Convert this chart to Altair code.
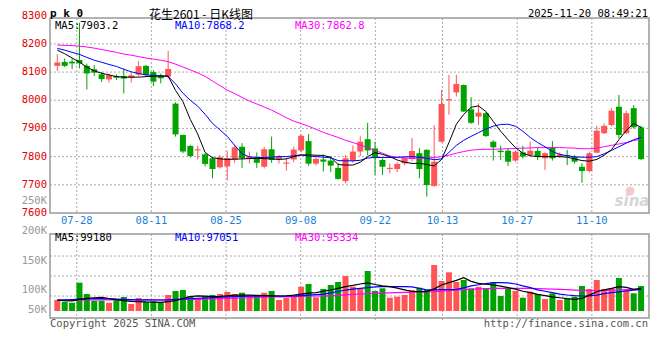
import altair as alt
import pandas as pd

# ---------------- data ----------------
TICK_LABELS = ["07-28", "08-11", "08-25", "09-08", "09-22", "10-13", "10-27", "11-10"]
TICK_INDEX = [3, 13, 23, 33, 43, 52, 62, 72]

OPEN = [8122, 8136, 8137, 8143, 8122, 8110, 8092, 8074, 8086, 8086,
        8080, 8091, 8122, 8100, 8088, 8084, 7988, 7877, 7838, 7822,
        7808, 7794, 7762, 7765, 7790, 7835, 7794, 7794, 7764, 7826,
        7792, 7775, 7790, 7822, 7855, 7775, 7790, 7786, 7760, 7713,
        7785, 7818, 7862, 7829, 7788, 7756, 7756, 7776, 7792, 7812,
        7824, 7696, 7853, 8000, 8028, 8054, 7968, 7942, 7954, 7853,
        7821, 7821, 7786, 7815, 7806, 7820, 7794, 7833, 7800, 7806,
        7800, 7764, 7749, 7814, 7883, 7912, 7977, 7883, 7972, 7904]
CLOSE = [8134, 8122, 8131, 8131, 8095, 8098, 8075, 8089, 8080, 8077,
         8088, 8121, 8090, 8066, 8078, 8111, 7879, 7818, 7802, 7826,
         7774, 7756, 7798, 7795, 7833, 7795, 7800, 7778, 7826, 7788,
         7800, 7779, 7825, 7874, 7775, 7792, 7782, 7768, 7721, 7794,
         7818, 7853, 7822, 7798, 7764, 7760, 7774, 7794, 7820, 7756,
         7699, 7782, 7987, 8004, 8058, 7960, 7920, 7956, 7873, 7833,
         7816, 7782, 7817, 7800, 7821, 7800, 7812, 7794, 7808, 7801,
         7782, 7749, 7812, 7892, 7909, 7963, 7877, 7954, 7904, 7791]
HIGH = [8163, 8148, 8148, 8275, 8130, 8125, 8100, 8095, 8092, 8113,
        8098, 8139, 8125, 8107, 8095, 8175, 7993, 7878, 7842, 7838,
        7812, 7800, 7806, 7820, 7842, 7848, 7818, 7815, 7835, 7871,
        7805, 7795, 7835, 7880, 7880, 7797, 7808, 7800, 7776, 7805,
        7840, 7872, 7920, 7853, 7794, 7776, 7780, 7800, 7866, 7830,
        7826, 7912, 8037, 8090, 8090, 8056, 8011, 7989, 7958, 7858,
        7838, 7830, 7822, 7838, 7853, 7832, 7815, 7855, 7815, 7824,
        7806, 7776, 7818, 7909, 7918, 7972, 8019, 7963, 7983, 7910]
LOW = [8104, 8118, 8110, 8113, 8038, 8086, 8065, 8063, 8072, 8024,
       8063, 8085, 8083, 8050, 8060, 8077, 7871, 7812, 7797, 7790,
       7765, 7723, 7758, 7715, 7778, 7760, 7776, 7760, 7758, 7778,
       7775, 7750, 7780, 7815, 7768, 7768, 7747, 7746, 7718, 7706,
       7778, 7802, 7805, 7735, 7735, 7741, 7745, 7770, 7784, 7723,
       7658, 7693, 7850, 7948, 8013, 7958, 7916, 7912, 7870, 7786,
       7788, 7767, 7782, 7794, 7800, 7788, 7753, 7786, 7795, 7770,
       7775, 7707, 7745, 7812, 7880, 7908, 7865, 7880, 7900, 7788]

MA5 = [8178, 8165, 8150, 8135, 8118, 8104, 8096, 8090, 8084, 8082,
       8082, 8082, 8084, 8085, 8086, 8086, 8035, 7995, 7932, 7880,
       7815, 7796, 7792, 7790, 7791, 7792, 7793, 7794, 7793, 7792,
       7790, 7792, 7800, 7806, 7806, 7805, 7804, 7798, 7772, 7770,
       7770, 7780, 7800, 7814, 7808, 7800, 7788, 7780, 7776, 7776,
       7772, 7767, 7790, 7850, 7915, 7950, 7975, 7980, 7960, 7925,
       7890, 7860, 7832, 7812, 7803, 7800, 7800, 7800, 7800, 7798,
       7792, 7786, 7784, 7790, 7805, 7825, 7860, 7893, 7918, 7903]
MA10 = [8184, 8178, 8170, 8163, 8152, 8142, 8135, 8127, 8120, 8110,
        8101, 8095, 8090, 8088, 8086, 8085, 8058, 8025, 8000, 7979,
        7950, 7918, 7895, 7872, 7840, 7810, 7799, 7797, 7797, 7798,
        7800, 7800, 7803, 7806, 7802, 7800, 7798, 7796, 7786, 7785,
        7785, 7787, 7795, 7797, 7797, 7797, 7798, 7799, 7800, 7798,
        7794, 7789, 7792, 7815, 7840, 7858, 7872, 7885, 7898, 7908,
        7914, 7915, 7908, 7890, 7868, 7850, 7835, 7818, 7808, 7803,
        7799, 7798, 7798, 7800, 7810, 7822, 7835, 7848, 7860, 7868]
MA30 = [8196, 8195, 8194, 8192, 8189, 8185, 8180, 8175, 8170, 8164,
        8160, 8155, 8150, 8146, 8142, 8137, 8128, 8118, 8108, 8097,
        8085, 8068, 8052, 8036, 8024, 8010, 7997, 7987, 7976, 7965,
        7952, 7938, 7926, 7917, 7908, 7897, 7886, 7877, 7868, 7858,
        7850, 7841, 7832, 7822, 7812, 7802, 7797, 7795, 7794, 7794,
        7795, 7797, 7800, 7805, 7812, 7818, 7823, 7825, 7826, 7826,
        7827, 7828, 7829, 7830, 7831, 7832, 7832, 7832, 7832, 7831,
        7830, 7828, 7828, 7830, 7835, 7840, 7845, 7850, 7857, 7862]

VOLUME = [45700, 38600, 34400, 117400, 70600, 42700, 42700, 34400, 45700, 58100,
          29100, 54000, 37400, 40300, 34400, 66400, 83000, 87200, 62300, 54000,
          62300, 66400, 70600, 78900, 70600, 75900, 62300, 62300, 75900, 83000,
          45700, 54000, 59300, 100800, 112100, 56900, 91300, 107900, 120400, 145300,
          100800, 94200, 166000, 83000, 94200, 55200, 59300, 66400, 87200, 96700,
          87200, 190900, 124500, 160600, 120400, 128700, 94200, 100800, 94200, 119100,
          62300, 94200, 83000, 55200, 80100, 70600, 49800, 73500, 45700, 51000,
          59300, 103800, 91300, 128700, 91300, 94200, 137000, 87200, 73500, 103800]
VMA5 = [45700, 42500, 42000, 48000, 52600, 55000, 56700, 52000, 47000, 43000,
        40000, 38700, 37500, 37000, 36200, 38500, 43000, 52000, 60000, 62500,
        62000, 60000, 60500, 63000, 65500, 66400, 65500, 64500, 63500, 62800,
        62300, 63000, 66000, 70000, 74000, 76500, 82000, 87200, 94000, 101000,
        106000, 112000, 117000, 110000, 104000, 101000, 95000, 88000, 81000, 80200,
        80200, 92000, 107900, 118000, 127000, 138000, 123000, 115000, 111000, 108000,
        103000, 97000, 91000, 82000, 76000, 69000, 64000, 59000, 55000, 51000,
        48400, 52000, 66000, 80000, 88000, 94000, 101000, 98000, 90000, 94000]
VMA10 = [45700, 46500, 47500, 49000, 50000, 51000, 51200, 50000, 49000, 48000,
         47000, 46500, 46000, 45700, 45700, 46500, 48000, 49500, 51000, 52500,
         54000, 55500, 57000, 58500, 59500, 60500, 61500, 62000, 62300, 62300,
         62300, 62300, 62300, 64000, 66000, 68000, 70000, 75000, 81000, 87000,
         91000, 94100, 97000, 100000, 101000, 101000, 101000, 101000, 100000, 94000,
         88000, 87500, 88500, 89000, 90000, 96000, 104000, 109000, 114000, 117600,
         117600, 117000, 112000, 104000, 97000, 88000, 82000, 76000, 70000, 66400,
         64000, 62300, 63000, 66000, 72000, 76000, 79000, 83000, 86500, 89900]
VMA30 = [45700, 45700, 45500, 45500, 45600, 45800, 45900, 46000, 46000, 46100,
         46000, 46000, 46100, 46200, 46300, 46500, 47000, 47500, 48000, 48500,
         49000, 50000, 51000, 52000, 53000, 54000, 55000, 56000, 57000, 58000,
         58500, 59000, 60000, 61000, 62000, 62200, 62500, 63000, 65000, 67000,
         69000, 70500, 72000, 73000, 74000, 75000, 76000, 77000, 78000, 78800,
         79500, 80200, 82000, 84000, 86500, 88500, 90000, 91500, 93000, 94100,
         94100, 94100, 94100, 94100, 94000, 93000, 92000, 91000, 90000, 88500,
         87000, 85500, 84500, 85000, 86000, 87000, 88000, 88800, 89500, 90000]

PRICE_TICKS = [8300, 8200, 8100, 8000, 7900, 7800, 7700, 7600]
PRICE_GRID = [8200, 8100, 8000, 7900, 7800, 7700]
VOL_LABELS = ["250K", "200K", "150K", "100K", "50K"]
VOL_GRID = [228250, 145250, 62250]

TITLE = "花生2601 - 日K线图"
STAMP = "2025-11-20 08:49:21"
MA_TEXT = ["MA5:7903.2", "MA10:7868.2", "MA30:7862.8"]
VMA_TEXT = ["MA5:99180", "MA10:97051", "MA30:95334"]

# ---------------- layout / style ----------------
W, H = 644, 344
PL, PR, PT, PB = 42, 641, 10, 205      # price panel frame (plot coords)
VT, VB = 226, 310                      # volume panel frame
VOL_LABEL_Y = [193, 223, 253, 282, 302]
RED, GREEN = "#FF5555", "#00A300"
BLUE_TXT = "#1C7FD6"
GRID = "#AAAAAA"
FRAME = "#999999"
MONO = "DejaVu Sans Mono"

N = len(CLOSE)
df = pd.DataFrame({"i": list(range(N)), "open": OPEN, "close": CLOSE, "high": HIGH,
                   "low": LOW, "vol": VOLUME, "ma5": MA5, "ma10": MA10, "ma30": MA30,
                   "vma5": VMA5, "vma10": VMA10, "vma30": VMA30})
df["dir"] = ["up" if c >= o else "down" for o, c in zip(OPEN, CLOSE)]

XS = alt.Scale(domain=[-5.995, 79.80], nice=False, zero=False)
PS = alt.Scale(domain=[7106.7, 8327.4], nice=False, zero=False)
VS = alt.Scale(domain=[-170150, 1257450], nice=False, zero=False)
X = alt.X("i:Q", scale=XS, axis=None)
COL = alt.Color("dir:N", scale=alt.Scale(domain=["up", "down"], range=[RED, GREEN]), legend=None)

base = alt.Chart(df)
one = alt.Chart(pd.DataFrame({"a": [0]}))

# date gridline positions (Sina places them on a slightly different pitch than the candles)
tick_pos = [(50 + d * 599 / 79 - 53) / 7.506 for d in TICK_INDEX]
ticks_df = pd.DataFrame({"pos": tick_pos, "t": TICK_LABELS})
TX = alt.X("pos:Q", scale=XS, axis=None)

layers = []
# grids
layers.append(alt.Chart(pd.DataFrame({"p": PRICE_GRID})).mark_rule(color=GRID, strokeDash=[2, 2], strokeWidth=1)
              .encode(y=alt.Y("p:Q", scale=PS, axis=None), x=alt.value(PL), x2=alt.value(PR)))
layers.append(alt.Chart(pd.DataFrame({"v": VOL_GRID})).mark_rule(color=GRID, strokeDash=[2, 2], strokeWidth=1)
              .encode(y=alt.Y("v:Q", scale=VS, axis=None), x=alt.value(PL), x2=alt.value(PR)))
layers.append(alt.Chart(ticks_df).mark_rule(color=GRID, strokeDash=[2, 2], strokeWidth=1)
              .encode(x=TX, y=alt.value(PT), y2=alt.value(PB)))
layers.append(alt.Chart(ticks_df).mark_rule(color=GRID, strokeDash=[2, 2], strokeWidth=1)
              .encode(x=TX, y=alt.value(VT), y2=alt.value(VB + 2)))

# watermark
layers.append(one.mark_point(shape="circle", size=80, filled=True, color="#F6CACA", opacity=1)
              .encode(x=alt.value(622), y=alt.value(183)))
layers.append(one.mark_text(text="sina", font="DejaVu Sans", fontSize=15, fontWeight="bold",
                            fontStyle="italic", color="#D6D6D6", align="center", baseline="middle")
              .encode(x=alt.value(624), y=alt.value(193)))

# candles
layers.append(base.mark_rule(strokeWidth=1)
              .encode(x=X, y=alt.Y("low:Q", scale=PS, axis=None), y2="high:Q", color=COL))
layers.append(base.mark_bar(size=6)
              .encode(x=X, y=alt.Y("open:Q", scale=PS, axis=None), y2="close:Q", color=COL))
# price MAs
for field, c in [("ma30", "#FF00FF"), ("ma10", "#0000FF"), ("ma5", "#000000")]:
    layers.append(base.mark_line(color=c, strokeWidth=1)
                  .encode(x=X, y=alt.Y(f"{field}:Q", scale=PS, axis=None)))

# volume bars
layers.append(base.mark_bar(size=6)
              .encode(x=X, y=alt.Y("vol:Q", scale=VS, axis=None), y2=alt.Y2Datum(0), color=COL))
for field, c in [("vma30", "#FF00FF"), ("vma10", "#0000FF"), ("vma5", "#000000")]:
    layers.append(base.mark_line(color=c, strokeWidth=1.2)
                  .encode(x=X, y=alt.Y(f"{field}:Q", scale=VS, axis=None)))

# frames
for top, bot in [(PT, PB), (VT, VB)]:
    layers.append(one.mark_rect(fillOpacity=0, stroke=FRAME, strokeWidth=1.5)
                  .encode(x=alt.value(PL), x2=alt.value(PR), y=alt.value(top), y2=alt.value(bot)))

# axis labels
layers.append(alt.Chart(pd.DataFrame({"p": PRICE_TICKS, "t": [str(v) for v in PRICE_TICKS]}))
              .mark_text(font=MONO, fontSize=10.5, color="#E00000", align="right", baseline="middle")
              .encode(y=alt.Y("p:Q", scale=PS, axis=None), x=alt.value(39), text="t:N"))
layers.append(alt.Chart(pd.DataFrame({"py": VOL_LABEL_Y, "t": VOL_LABELS}))
              .mark_text(font=MONO, fontSize=10.5, color="#999999", align="right", baseline="middle")
              .encode(y=alt.Y("py:Q", scale=None), x=alt.value(39), text="t:N"))
layers.append(alt.Chart(ticks_df)
              .mark_text(font=MONO, fontSize=10.5, color=BLUE_TXT, align="center", baseline="middle")
              .encode(x=TX, y=alt.value(213), text="t:N"))

# header / legends / footer
def label(txt, x, y, color="#000000", align="left", font=MONO, size=10.5, weight="normal"):
    return one.mark_text(text=txt, font=font, fontSize=size, fontWeight=weight, color=color,
                         align=align, baseline="middle").encode(x=alt.value(x), y=alt.value(y))

layers.append(label("p k 0", 42, 6, size=11, weight="bold", font="DejaVu Sans Mono"))
layers.append(label(TITLE, 193, 7, align="center", font="Noto Sans CJK SC", size=12))
layers.append(label(STAMP, 640, 6, align="right"))
for txt, x, c in zip(MA_TEXT, [47, 167, 287], ["#000000", "#0000FF", "#FF00FF"]):
    layers.append(label(txt, x, 17.5, color=c))
for txt, x, c in zip(VMA_TEXT, [47, 167, 287], ["#000000", "#0000FF", "#FF00FF"]):
    layers.append(label(txt, x, 230, color=c))
layers.append(label("Copyright 2025 SINA.COM", 42, 316, color="#555555"))
layers.append(label("http://finance.sina.com.cn", 640, 316, color="#555555", align="right"))

chart = (alt.layer(*layers)
         .resolve_scale(y="independent")
         .properties(width=W, height=H, autosize=alt.AutoSizeParams(type="none"), padding=0,
                     background="#FFFFFF")
         .configure_view(strokeWidth=0))

chart.save("out.html", embed_options={"renderer": "svg", "actions": False})
